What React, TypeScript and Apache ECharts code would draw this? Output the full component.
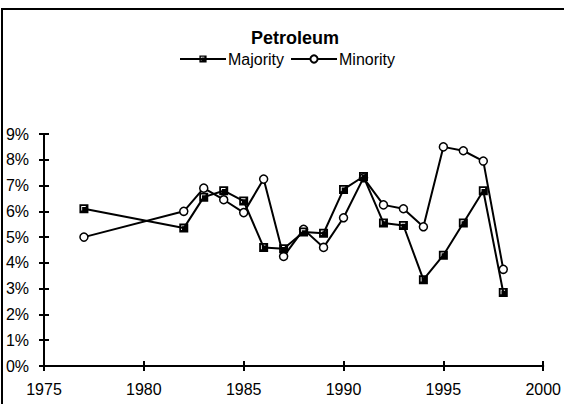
import React, { useEffect, useRef } from "react";
import * as echarts from "echarts";

const years = [1977, 1982, 1983, 1984, 1985, 1986, 1987, 1988, 1989, 1990, 1991, 1992, 1993, 1994, 1995, 1996, 1997, 1998];
const majority = [6.1, 5.35, 6.55, 6.8, 6.4, 4.6, 4.55, 5.2, 5.15, 6.85, 7.35, 5.55, 5.45, 3.35, 4.3, 5.55, 6.8, 2.85];
const minority = [5.0, 6.0, 6.9, 6.45, 5.95, 7.25, 4.25, 5.3, 4.6, 5.75, 7.3, 6.25, 6.1, 5.4, 8.5, 8.35, 7.95, 3.75];
const seriesNames = ["Majority", "Minority"];
const chartTitle = "Petroleum";

const squareSymbol =
  "path://M0,0 L10,0 L10,10 L0,10 Z M2,2 L2,7 L3,7 L3,3 L7,3 L7,2 Z";

export default function App() {
  const ref = useRef<HTMLDivElement>(null);
  useEffect(() => {
    if (!ref.current) return;
    const chart = echarts.init(ref.current, undefined, { renderer: "svg" });
    const font = "Liberation Sans, Arial, sans-serif";
    const xCommon = {
      type: "value" as const,
      min: 1975,
      max: 2000,
      interval: 5,
      splitLine: { show: false },
      axisLine: { show: true, lineStyle: { color: "#000", width: 2 } },
    };
    const yCommon = {
      type: "value" as const,
      min: 0,
      max: 9,
      interval: 1,
      splitLine: { show: false },
      axisLine: { show: true, lineStyle: { color: "#000", width: 2 } },
    };
    chart.setOption({
      animation: false,
      backgroundColor: "#fff",
      textStyle: { fontFamily: font },
      title: {
        text: chartTitle,
        left: 290,
        textAlign: "center",
        top: 24,
        textStyle: { fontFamily: font, fontWeight: "bold", fontSize: 18, color: "#000" },
      },
      legend: {
        top: 46,
        left: 174,
        itemWidth: 46,
        itemHeight: 9,
        itemGap: 6,
        textStyle: { fontFamily: font, fontSize: 16, color: "#000", padding: [0, 0, 0, -3] },
        data: seriesNames,
      },
      graphic: [
        {
          type: "rect",
          shape: { x: 2, y: 9, width: 620, height: 500 },
          style: { fill: "none", stroke: "#000", lineWidth: 2 },
          silent: true,
        },
      ],
      grid: { left: 44, right: 20, top: 134, bottom: 38 },
      xAxis: [
        {
          ...xCommon,
          position: "bottom",
          axisTick: { show: true, length: 5, lineStyle: { color: "#000", width: 2 } },
          axisLabel: { color: "#000", fontSize: 16, fontFamily: font, margin: 15, formatter: (v: number) => String(v) },
        },
        {
          ...xCommon,
          position: "bottom",
          offset: 0,
          axisTick: { show: true, inside: true, length: 5, lineStyle: { color: "#000", width: 2 } },
          axisLabel: { show: false },
        },
      ],
      yAxis: [
        {
          ...yCommon,
          position: "left",
          axisTick: { show: true, length: 5, lineStyle: { color: "#000", width: 2 } },
          axisLabel: { color: "#000", fontSize: 16, fontFamily: font, margin: 15, formatter: "{value}%" },
        },
        {
          ...yCommon,
          position: "left",
          offset: 0,
          axisTick: { show: true, inside: true, length: 5, lineStyle: { color: "#000", width: 2 } },
          axisLabel: { show: false },
        },
      ],
      series: [
        {
          name: seriesNames[0],
          type: "line",
          z: 3,
          data: years.map((y, i) => [y, majority[i]]),
          symbol: squareSymbol,
          symbolSize: 9,
          lineStyle: { color: "#000", width: 2 },
          itemStyle: { color: "#000", borderWidth: 0 },
        },
        {
          name: seriesNames[1],
          type: "line",
          z: 2,
          data: years.map((y, i) => [y, minority[i]]),
          symbol: "circle",
          symbolSize: 8,
          lineStyle: { color: "#000", width: 2 },
          itemStyle: { color: "#fff", borderColor: "#000", borderWidth: 1.5 },
        },
      ],
    });
    return () => chart.dispose();
  }, []);
  return <div ref={ref} style={{ width: 564, height: 404, position: "absolute", left: 0, top: 0 }} />;
}
